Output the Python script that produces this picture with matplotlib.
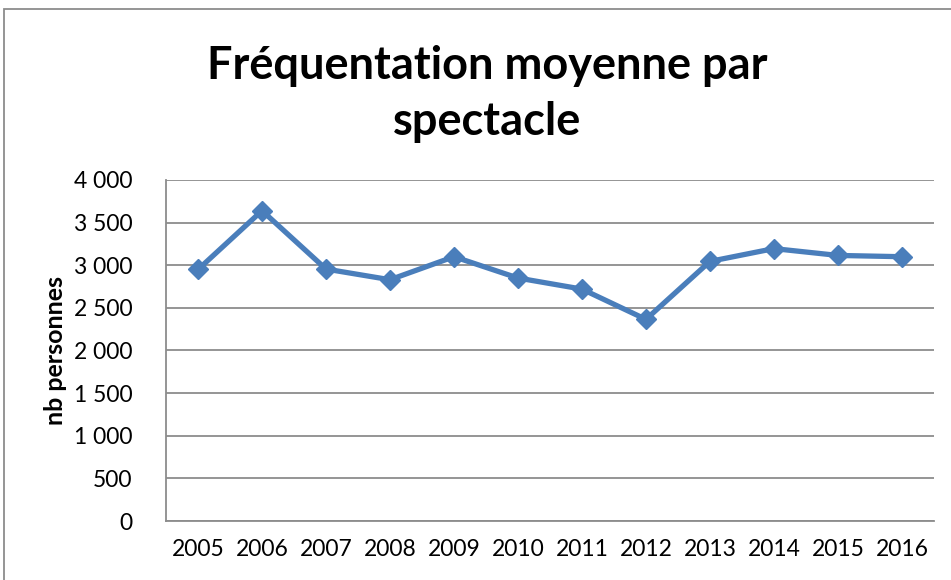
import matplotlib
matplotlib.use("Agg")
import matplotlib.pyplot as plt
from matplotlib.ticker import FuncFormatter, MultipleLocator
from matplotlib.patches import Rectangle

# data
annees = ['2005', '2006', '2007', '2008', '2009', '2010',
          '2011', '2012', '2013', '2014', '2015', '2016']
frequentation = [2950, 3640, 2955, 2830, 3100, 2850,
                 2720, 2365, 3045, 3195, 3115, 3100]

plt.rcParams['font.family'] = ['Lato', 'DejaVu Sans']

fig = plt.figure(figsize=(9.51, 5.8), dpi=100)
ax = fig.add_axes([0.1746, 0.1017, 0.8074, 0.588])

x = range(len(annees))
ax.plot(x, frequentation, color='#4A7EBB', lw=3.8, marker='D', ms=10,
        markerfacecolor='#4A7EBB', markeredgecolor='#4A7EBB', zorder=3)

ax.set_xlim(-0.5, len(annees) - 0.5)
ax.set_ylim(0, 4000)
ax.set_xticks(list(x))
ax.set_xticklabels(annees, fontsize=16.5)
ax.yaxis.set_major_locator(MultipleLocator(500))
ax.yaxis.set_major_formatter(FuncFormatter(lambda v, p: f"{int(v):,}".replace(",", " ")))
ax.tick_params(axis='y', labelsize=16.5, length=0, pad=24)
ax.tick_params(axis='x', length=0, pad=13)
ax.grid(axis='y', color='#8C8C8C', lw=1.3)
ax.set_axisbelow(True)
for s in ['top', 'right']:
    ax.spines[s].set_visible(False)
for s in ['left', 'bottom']:
    ax.spines[s].set_color('#8C8C8C')
    ax.spines[s].set_linewidth(1.3)

ax.set_ylabel('nb personnes', fontsize=18, fontweight='bold', labelpad=5)

fig.text(0.512, 0.838, 'Fréquentation moyenne par\nspectacle', ha='center', va='center',
         fontsize=32.5, fontweight='bold', linespacing=1.4)

# outer chart border
fig.patches.append(Rectangle((0.004, -0.01), 1.1, 0.995, transform=fig.transFigure,
                             fill=False, edgecolor='#8C8C8C', lw=1.3))

fig.savefig('out.png', dpi=100)
